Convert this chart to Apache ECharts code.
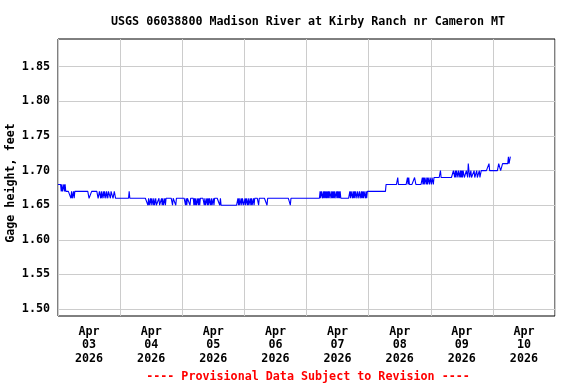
<!DOCTYPE html>
<html><head><meta charset="utf-8">
<script src="https://cdn.jsdelivr.net/npm/echarts@6/dist/echarts.min.js"></script>
<style>html,body{margin:0;padding:0;background:#fff}#c{width:576px;height:384px}</style>
</head><body><div id="c"></div>
<script>
const titleText = 'USGS 06038800 Madison River at Kirby Ranch nr Cameron MT';
const footerText = '---- Provisional Data Subject to Revision ----';
const yAxisName = 'Gage height, feet';
const xTickLabels = ['Apr\n03\n2026','Apr\n04\n2026','Apr\n05\n2026','Apr\n06\n2026','Apr\n07\n2026','Apr\n08\n2026','Apr\n09\n2026','Apr\n10\n2026'];
const xTickHours = [12, 36, 60, 84, 108, 132, 156, 180];
const yTickValues = [1.50, 1.55, 1.60, 1.65, 1.70, 1.75, 1.80, 1.85];
// 15-minute gage heights, one string per day;
// each character = hundredths of a foot above 1.65 ft (0 -> 1.65, 3 -> 1.68, 7 -> 1.72)
const baseHeight = 1.65;
const apr03 = "33333" + "23223232" + "2222222" + "121121" + "2222222222222222222222" + "1111" + "2222222222" + "112212112122122122212221122" + "1111111";
const apr04 = "11111111111111" + "2" + "1111111111111111111111111111" + "0100101101001000010001010010" + "1111111111" + "0" + "1111" + "0" + "111111111";
const apr05 = "11111" + "010" + "1111" + "01" + "1111" + "01010010101" + "11111" + "01001010" + "11" + "010010" + "11111111" + "0" + "1" + "00000000000000000000000000" + "1010010110";
const apr06 = "01011010010100101" + "11111" + "0" + "111111111111" + "0" + "11111111111111111111111111111111111" + "0" + "111111111111111111111111";
const apr07 = "111111111111111111111" + "21221212121212122121212112121212" + "11111111111111" + "212212121221221221212122121" + "22";
const apr08 = "222222222222222222222222222" + "333333333333333333" + "4" + "33333333333333" + "434" + "33333333" + "44" + "3333333333" + "4343443434434";
const apr09 = "434434" + "444444444" + "5" + "4444444444444444444" + "554545545545454554" + "44554" + "6" + "54454444544454445445" + "55555555555" + "6" + "55555";
const apr10 = "555555555" + "666" + "555" + "666666666" + "7" + "66" + "7";
const dayCodes = [apr03, apr04, apr05, apr06, apr07, apr08, apr09, apr10];

const seriesData = [];
dayCodes.forEach((s, d) => {
  for (let i = 0; i < s.length; i++) {
    seriesData.push([d * 24 + i * 0.25, +(baseHeight + parseInt(s[i], 10) / 100).toFixed(2)]);
  }
});

const FONT = '"DejaVu Sans Mono", monospace';
const FS = 11.7;
const chart = echarts.init(document.getElementById('c'), null, {renderer: 'canvas'});
chart.setOption({
  animation: false,
  backgroundColor: '#ffffff',
  grid: {left: 58, right: 21, top: 39, bottom: 68, show: true, borderColor: '#000', borderWidth: 1, backgroundColor: 'transparent', containLabel: false, outerBoundsMode: 'none'},
  xAxis: {
    type: 'value', min: 0, max: 192, interval: 24,
    axisLine: {show: false}, axisTick: {show: false},
    splitLine: {show: true, lineStyle: {color: '#cccccc', width: 1}},
    axisLabel: {
      customValues: xTickHours,
      formatter: v => xTickLabels[xTickHours.indexOf(v)] || '',
      fontFamily: FONT, fontWeight: 'bold', fontSize: FS, color: '#000', lineHeight: 13.5, margin: 9
    }
  },
  yAxis: {
    type: 'value', min: 1.49, max: 1.89,
    name: yAxisName, nameLocation: 'middle', nameGap: 41, nameMoveOverlap: false,
    nameTextStyle: {fontFamily: FONT, fontWeight: 'bold', fontSize: FS, color: '#000', padding: [0, 11, 0, 0]},
    axisLine: {show: false},
    axisTick: {show: false, customValues: yTickValues},
    splitLine: {show: true, lineStyle: {color: '#cccccc', width: 1}},
    axisLabel: {
      customValues: yTickValues,
      formatter: v => v.toFixed(2),
      fontFamily: FONT, fontWeight: 'bold', fontSize: FS, color: '#000', margin: 8
    }
  },
  graphic: [
    {type: 'text', x: 308, y: 22, style: {text: titleText, align: 'center', verticalAlign: 'middle', font: 'bold ' + FS + 'px ' + FONT, fill: '#000'}},
    {type: 'text', x: 308, y: 377, style: {text: footerText, align: 'center', verticalAlign: 'middle', font: 'bold ' + FS + 'px ' + FONT, fill: '#ff0000'}}
  ],
  series: [{
    type: 'line', data: seriesData, showSymbol: false, symbol: 'none', sampling: null,
    lineStyle: {color: '#0000ff', width: 1.1}, silent: true, z: 3
  }]
});
</script></body></html>
